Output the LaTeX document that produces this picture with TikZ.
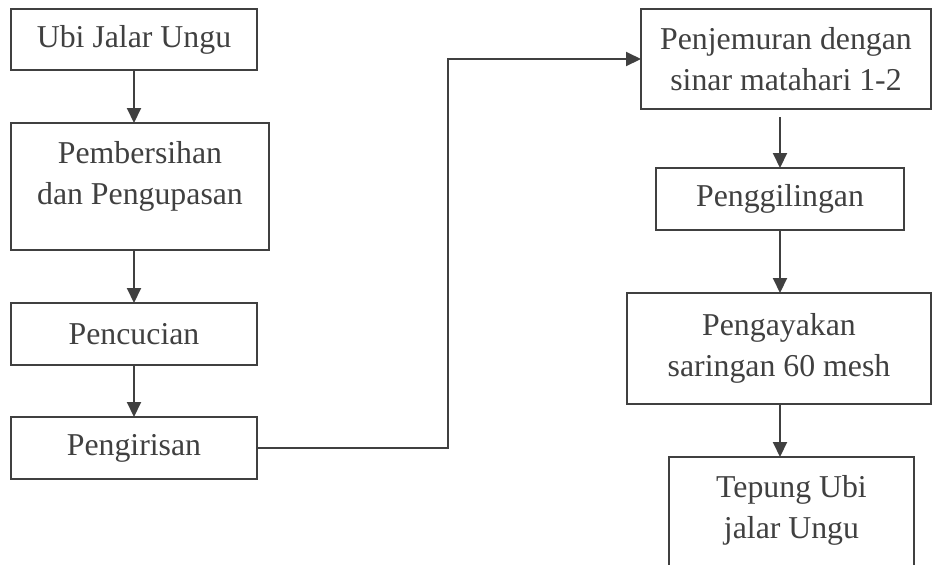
\documentclass[tikz,border=0pt]{standalone}
\usepackage{fontspec}
\setmainfont{Liberation Serif}
\usetikzlibrary{arrows.meta,calc,positioning}
\definecolor{StepGray}{RGB}{64,64,64}
\tikzset{
  stepbox/.style={draw=StepGray,line width=0.9pt,text=StepGray,align=center,
    font=\fontsize{15.9pt}{20.5pt}\selectfont,anchor=north west,
    inner sep=0pt,outer sep=0pt},
  tallbox/.style={stepbox,text height=31pt,text depth=13.5pt},
  flow/.style={-{Triangle[length=7.5pt,width=7pt]},line width=1pt,draw=StepGray}
}

\begin{document}
\begin{tikzpicture}[x=0.5pt,y=-0.5pt]
  \clip (0,0) rectangle (932,564);
  % left column
  \node[stepbox,minimum width=123pt,minimum height=30.5pt] (ubi) at (11,9) {Ubi Jalar Ungu};
  \node[tallbox,minimum width=129pt,minimum height=63.5pt] (clean) at (11,123) {Pembersihan\\dan Pengupasan};
  \node[stepbox,minimum width=123pt,minimum height=31pt] (wash) at (11,303) {Pencucian};
  \node[stepbox,minimum width=123pt,minimum height=31pt] (slice) at (11,417) {Pengirisan};
  % right column
  \node[stepbox,minimum width=145pt,minimum height=50pt] (dry) at (641,9) {Penjemuran dengan\\sinar matahari 1-2};
  \node[stepbox,minimum width=124pt,minimum height=31pt] (grind) at (656,168) {Penggilingan};
  \node[stepbox,minimum width=152pt,minimum height=55.5pt] (sieve) at (627,293) {Pengayakan\\saringan 60 mesh};
  \node[tallbox,minimum width=122.5pt,minimum height=63.5pt] (flour) at (669,457) {Tepung Ubi\\jalar Ungu};
  \coordinate (bend) at (448,0);

  \draw[flow] (ubi.south) -- (ubi.south |- clean.north);
  \draw[flow] (ubi.south |- clean.south) -- (ubi.south |- wash.north);
  \draw[flow] (wash.south) -- (slice.north);
  \draw[flow] (slice.east) -- (slice.east -| bend) |- (dry.west);
  \draw[flow] ($(grind.north |- dry.south)+(0,8)$) -- (grind.north);
  \draw[flow] (grind.south) -- (grind.south |- sieve.north);
  \draw[flow] (grind.south |- sieve.south) -- (grind.south |- flour.north);
\end{tikzpicture}
\end{document}
